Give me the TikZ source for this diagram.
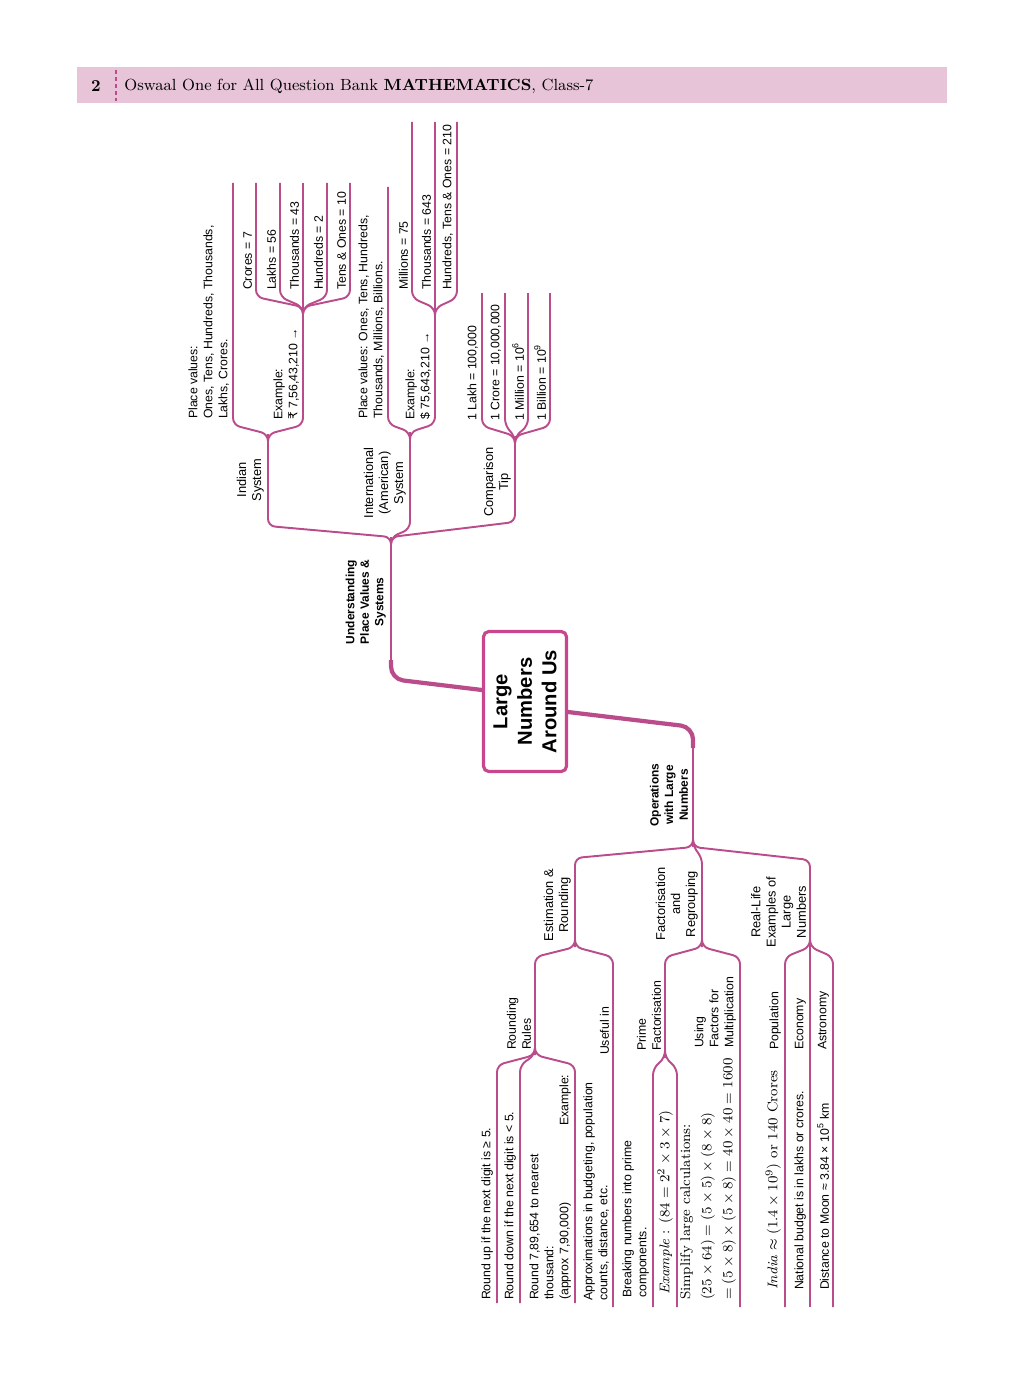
\documentclass[tikz,border=0pt]{standalone}
\usepackage{fontspec}
\usepackage{amsmath}
\usepackage{tikz}
\usetikzlibrary{calc}
\newfontfamily\mapsans{Liberation Sans}
\newfontfamily\symfont{DejaVu Sans}
\definecolor{mapline}{RGB}{186,76,140}
\definecolor{boxline}{RGB}{200,70,140}
\definecolor{headpink}{RGB}{231,196,216}

\begin{document}
\begin{tikzpicture}[x=0.02cm, y=-0.02cm,
    branch/.style={draw=mapline, line width=1.1pt, rounded corners=4pt},
    trunk/.style={draw=mapline, line width=2.4pt, rounded corners=7pt},
    leaf/.style={rotate=90, anchor=south west, inner sep=1pt, align=left, font=\mapsans\fontsize{7}{8.5}\selectfont},
    mathleaf/.style={leaf, font=\rmfamily\fontsize{8}{12}\selectfont},
    topic/.style={rotate=90, anchor=south, inner sep=1pt, align=center, font=\mapsans\fontsize{7.3}{8.6}\selectfont},
    maintopic/.style={topic, font=\mapsans\bfseries\fontsize{6.8}{8.3}\selectfont},
    rootbox/.style={rotate=90, draw=boxline, line width=1.8pt, rounded corners=3pt, fill=white, minimum width=2.8cm, minimum height=1.66cm, align=center, inner sep=0pt, font=\mapsans\bfseries\fontsize{11.5}{14}\selectfont}]

\useasboundingbox (0,0) rectangle (1024,1375);

% running head
\fill[headpink] (77,67) rectangle (947,103);
\draw[mapline, line width=0.8pt, dash pattern=on 2.5pt off 1.5pt] (116,70) -- (116,101);
\node[font=\bfseries\fontsize{9.5}{11}\selectfont] (pageno) at (96,86) {2};
\node[anchor=west, inner sep=0pt, font=\fontsize{9.2}{11}\selectfont] (runhead) at (124,86) {Oswaal One for All Question Bank \textbf{MATHEMATICS}, Class-7};

% central topic
\node[rootbox] (root) at (525,701.5) {Large\\Numbers\\Around Us};
\coordinate (rootL) at (482,690);
\coordinate (rootR) at (568,712);
\coordinate (J0) at (391,537);
\coordinate (J1) at (693,847);
\draw[trunk] (rootL) -- (391,679) -- (391,660);
\draw[branch] (391,663) -- (J0);
\draw[trunk] (rootR) -- (693,727) -- (693,748);
\draw[branch] (693,745) -- (J1);

% place values
\node[maintopic] (placeval) at (388,602) {Understanding\\Place Values \&\\Systems};
\coordinate (Jind) at (268,434);
\coordinate (Jint) at (410,432);
\coordinate (Jcmp) at (515,436);
\draw[branch] ($(J0)+(0,12)$) -- (J0) -- (268,526) -- (Jind);
\draw[branch] ($(J0)+(0,12)$) -- (J0) -- (410,529) -- (Jint);
\draw[branch] ($(J0)+(0,12)$) -- (J0) -- (515,522) -- (Jcmp);
\node[topic] (indian) at (266,480) {Indian\\System};
\node[topic] (intl) at (408,483) {International\\(American)\\System};
\node[topic] (cmp) at (513,482) {Comparison\\Tip};

% indian system
\coordinate (Jex1) at (303,307);
\coordinate (pvInd) at (233,183);
\draw[branch] ($(Jind)+(0,10)$) -- (Jind) -- (233,425) -- (pvInd);
\draw[branch] ($(Jind)+(0,10)$) -- (Jind) -- (303,425) -- (Jex1);
\node[leaf] (pvIndT) at (231,421) {Place values:\\Ones, Tens, Hundreds, Thousands,\\Lakhs, Crores.};
\node[leaf] (exInd) at (301,422) {Example:\\{\symfont ₹} 7,56,43,210 →};
\foreach \x/\lbl [count=\i] in {256/Crores = 7, 280/Lakhs = 56, 303/Thousands = 43, 327/Hundreds = 2, 350/Tens \& Ones = 10} {
  \coordinate (ind\i) at (\x,183);
  \draw[branch] ($(Jex1)+(0,10)$) -- (Jex1) -- (\x,297) -- (ind\i);
  \node[leaf] (indT\i) at (\x-2,292) {\lbl};
}

% international system
\coordinate (Jex2) at (435,308);
\coordinate (pvInt) at (388,187);
\draw[branch] ($(Jint)+(0,10)$) -- (Jint) -- (388,424) -- (pvInt);
\draw[branch] ($(Jint)+(0,10)$) -- (Jint) -- (435,424) -- (Jex2);
\node[leaf] (pvIntT) at (386,421) {Place values: Ones, Tens, Hundreds,\\Thousands, Millions, Billions.};
\node[leaf] (exInt) at (433,422) {Example:\\\$ 75,643,210 →};
\foreach \x/\lbl [count=\i] in {412/Millions = 75, 435/Thousands = 643, 457/{Hundreds, Tens \& Ones = 210}} {
  \coordinate (int\i) at (\x,122);
  \draw[branch] ($(Jex2)+(0,10)$) -- (Jex2) -- (\x,298) -- (int\i);
  \node[leaf] (intT\i) at (\x-2,292) {\lbl};
}

% comparison tip
\foreach \x/\lbl [count=\i] in {482/{1 Lakh = 100,000}, 505/{1 Crore = 10,000,000}, 528/1 Million = 10\textsuperscript{6}, 550/1 Billion = 10\textsuperscript{9}} {
  \coordinate (cmp\i) at (\x,293);
  \draw[branch] ($(Jcmp)+(0,10)$) -- (Jcmp) -- (\x,426) -- (cmp\i);
  \node[leaf] (cmpT\i) at (\x-2,423) {\lbl};
}

% operations
\node[maintopic] (ops) at (690,795) {Operations\\with Large\\Numbers};
\coordinate (Jest) at (575,947);
\coordinate (Jfac) at (702,947);
\coordinate (Jrl) at (810,947);
\draw[branch] ($(J1)+(0,-12)$) -- (J1) -- (575,858) -- (Jest);
\draw[branch] ($(J1)+(0,-12)$) -- (J1) -- (702,857) -- (Jfac);
\draw[branch] ($(J1)+(0,-12)$) -- (J1) -- (810,860) -- (Jrl);
\node[topic] (est) at (573,905) {Estimation \&\\Rounding};
\node[topic] (fac) at (700,904) {Factorisation\\and\\Regrouping};
\node[topic] (reallife) at (808,912) {Real-Life\\Examples of\\Large\\Numbers};

% estimation and rounding
\coordinate (Jrr) at (535,1055);
\coordinate (useEnd) at (613,1307);
\draw[branch] ($(Jest)+(0,-10)$) -- (Jest) -- (535,957) -- (Jrr);
\draw[branch] ($(Jest)+(0,-10)$) -- (Jest) -- (613,957) -- (useEnd);
\node[leaf] (rrules) at (533,1052) {Rounding\\Rules};
\node[leaf] (useful) at (611,1057) {Useful in};
\node[leaf] (usefulT) at (611,1303) {Approximations in budgeting, population\\counts, distance, etc.};
\foreach \x [count=\i] in {497,520,575} {
  \coordinate (rr\i) at (\x,1303);
  \draw[branch] ($(Jrr)+(0,-10)$) -- (Jrr) -- (\x,1065) -- (rr\i);
}
\node[leaf] (rrT1) at (495,1302) {Round up if the next digit is ≥ 5.};
\node[leaf] (rrT2) at (518,1302) {Round down if the next digit is < 5.};
\node[leaf] (rrEx) at (573,1128) {Example:};
\node[leaf] (rrT3) at (573,1302) {Round 7,89,654 to nearest\\thousand:\\(approx 7,90,000)};

% factorisation
\coordinate (Jpf) at (665,1058);
\coordinate (useFac) at (740,1307);
\draw[branch] ($(Jfac)+(0,-10)$) -- (Jfac) -- (665,957) -- (Jpf);
\draw[branch] ($(Jfac)+(0,-10)$) -- (Jfac) -- (740,957) -- (useFac);
\node[leaf] (prime) at (663,1053) {Prime\\Factorisation};
\node[leaf] (usingf) at (738,1050) {Using\\Factors for\\Multiplication};
\foreach \x [count=\i] in {653,677} {
  \coordinate (pf\i) at (\x,1307);
  \draw[branch] ($(Jpf)+(0,-10)$) -- (Jpf) -- (\x,1068) -- (pf\i);
}
\node[leaf] (pfT1) at (651,1300) {Breaking numbers into prime\\components.};
\node[mathleaf] (pfT2) at (675,1297) {\textit{Example} : $(84 = 2^2 \times 3 \times 7)$};
\node[mathleaf] (usingT) at (738,1302) {Simplify large calculations:\\$(25 \times 64) = (5 \times 5) \times (8 \times 8)$\\$= (5 \times 8) \times (5 \times 8) = 40 \times 40 = 1600$};

% real-life examples
\foreach \x/\lbl [count=\i] in {785/Population, 810/Economy, 833/Astronomy} {
  \coordinate (rl\i) at (\x,1307);
  \draw[branch] ($(Jrl)+(0,-10)$) -- (Jrl) -- (\x,957) -- (rl\i);
  \node[leaf] (rlL\i) at (\x-2,1052) {\lbl};
}
\node[mathleaf] (rlT1) at (783,1292) {\textit{India} $\approx (1.4 \times 10^9)$ or 140 Crores};
\node[leaf] (rlT2) at (808,1292) {National budget is in lakhs or crores.};
\node[leaf] (rlT3) at (831,1292) {Distance to Moon ≈ 3.84 × 10\textsuperscript{5} km};
\end{tikzpicture}
\end{document}
